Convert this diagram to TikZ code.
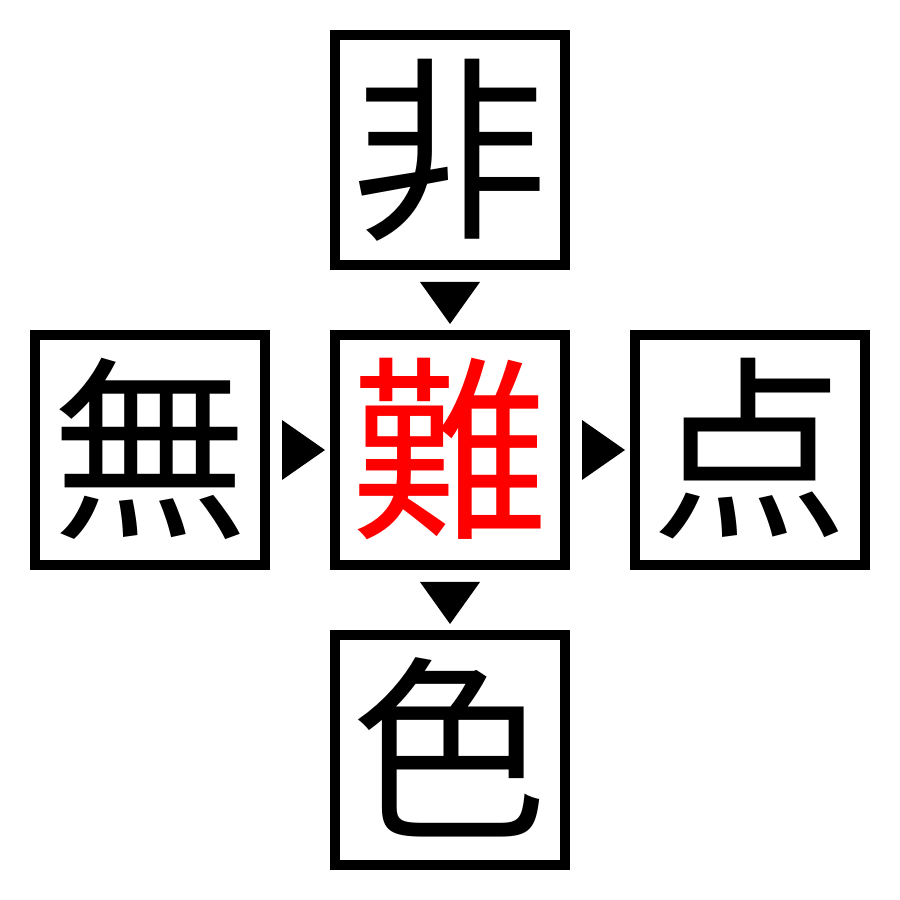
\documentclass[tikz,border=0pt]{standalone}
\usepackage{fontspec}
\newfontfamily\cjk{Noto Sans CJK JP}
\usetikzlibrary{positioning,calc}
\tikzset{
 kanji/.style={draw, line width=1mm, minimum size=2.3cm, inner sep=0pt,
  font=\cjk\fontsize{56}{56}\selectfont, text height=49pt, text depth=7pt},
 answer/.style={kanji, text=red}
}
\begin{document}
\begin{tikzpicture}[line join=miter]
 \useasboundingbox (0,0) rectangle (9,9);
 \node[answer] (mid) at (4.5,4.5) {難};
 \node[kanji, above=0.6cm of mid] (top) {非};
 \node[kanji, below=0.6cm of mid] (bot) {色};
 \node[kanji, left=0.6cm of mid] (lft) {無};
 \node[kanji, right=0.6cm of mid] (rgt) {点};
 % arrow marks
 \foreach \a/\b in {top/mid,mid/bot}
 \fill ($(\a.south)+(-0.3,-0.12)$) -- ($(\a.south)+(0.3,-0.12)$) -- ($(\b.north)+(0,0.06)$) -- cycle;
 \foreach \a/\b in {lft/mid,mid/rgt}
 \fill ($(\a.east)+(0.12,0.3)$) -- ($(\a.east)+(0.12,-0.3)$) -- ($(\b.west)+(-0.05,0)$) -- cycle;
\end{tikzpicture}
\end{document}
